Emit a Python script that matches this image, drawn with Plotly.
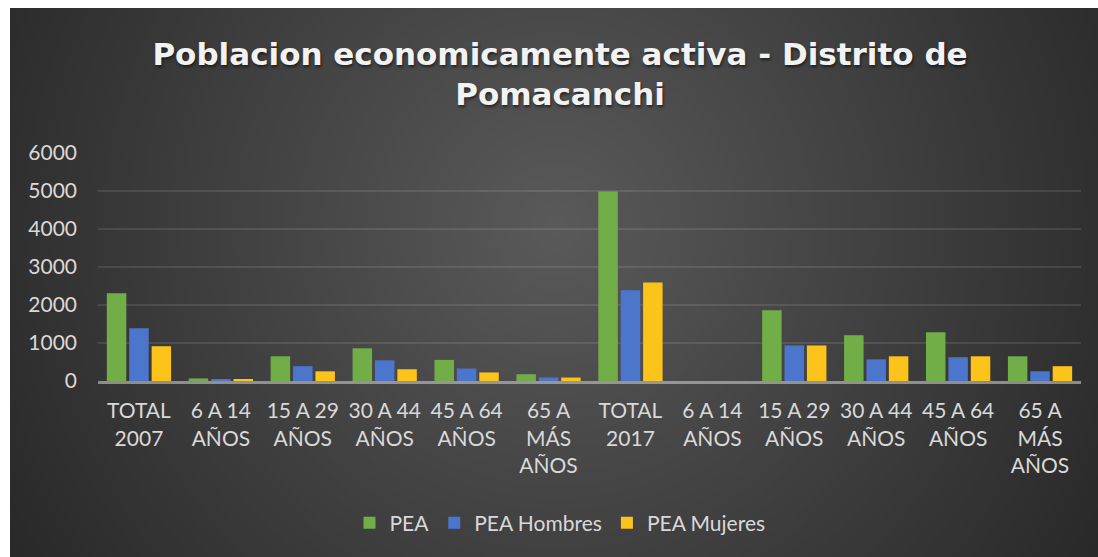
import base64
import struct
import zlib

import numpy as np
import plotly.graph_objects as go

# ---- data -------------------------------------------------------------
categories = [
    "TOTAL<br>2007", "6 A 14<br>AÑOS", "15 A 29<br>AÑOS", "30 A 44<br>AÑOS",
    "45 A 64<br>AÑOS", "65 A<br>MÁS<br>AÑOS",
    "TOTAL<br>2017", "6 A 14<br>AÑOS", "15 A 29<br>AÑOS", "30 A 44<br>AÑOS",
    "45 A 64<br>AÑOS", "65 A<br>MÁS<br>AÑOS",
]
pea = [2310, 67, 650, 860, 555, 178, 4990, 0, 1865, 1205, 1280, 650]
pea_hombres = [1390, 37, 390, 545, 330, 92, 2390, 0, 935, 570, 625, 255]
pea_mujeres = [915, 30, 255, 310, 225, 90, 2595, 0, 935, 650, 650, 390]
y_ticks = [0, 1000, 2000, 3000, 4000, 5000, 6000]

# ---- page geometry (px) ----------------------------------------------
W, H = 1098, 557
L, R, T, B = 98, 17, 153, 176
PW, PH = W - L - R, H - T - B
FRAME_X, FRAME_Y = 10, 8  # white edge around the dark chart frame


def png_uri(rgb):
    """Encode an HxWx3 uint8 array as a PNG data URI."""
    h, w, _ = rgb.shape
    raw = b"".join(b"\x00" + rgb[i].tobytes() for i in range(h))

    def chunk(tag, data):
        return (struct.pack(">I", len(data)) + tag + data
                + struct.pack(">I", zlib.crc32(tag + data) & 0xFFFFFFFF))

    png = (b"\x89PNG\r\n\x1a\n"
           + chunk(b"IHDR", struct.pack(">IIBBBBB", w, h, 8, 2, 0, 0, 0))
           + chunk(b"IDAT", zlib.compress(raw, 9))
           + chunk(b"IEND", b""))
    return "data:image/png;base64," + base64.b64encode(png).decode()


# radial dark-grey fill for the chart frame
fw, fh = W - FRAME_X, H - FRAME_Y
sx, sy = fw // 2, fh // 2
yy, xx = np.mgrid[0:sy, 0:sx]
px = xx * 2 + FRAME_X
py = yy * 2 + FRAME_Y
cx, cy = 555, 225
dist = np.sqrt((px - cx) ** 2 + (py - cy) ** 2)
t = np.clip(dist / 635.0, 0, 1)
g = (0x5a - (0x5a - 0x29) * t).astype(np.uint8)
bg = np.dstack([g, g, g])

fig = go.Figure()

xs = list(range(len(categories)))
for name, vals, col in [
    ("PEA", pea, "#72ae48"),
    ("PEA Hombres", pea_hombres, "#4c76cb"),
    ("PEA Mujeres", pea_mujeres, "#fcc31a"),
]:
    fig.add_trace(go.Bar(x=xs, y=vals, name=name,
                         marker=dict(color=col, line=dict(width=0))))

fig.add_layout_image(
    source=png_uri(bg), xref="paper", yref="paper",
    x=(FRAME_X - L) / PW, y=(H - B - FRAME_Y) / PH,
    sizex=fw / PW, sizey=fh / PH,
    xanchor="left", yanchor="top", sizing="stretch", layer="below",
)

tick_font = dict(family="Lato", size=21, color="#d9d9d9")

fig.update_layout(
    width=W, height=H,
    margin=dict(l=L, r=R, t=T, b=B, autoexpand=False),
    paper_bgcolor="white",
    plot_bgcolor="rgba(0,0,0,0)",
    barmode="group", bargap=0.18, bargroupgap=0.13,
    title=dict(
        text="Poblacion economicamente activa - Distrito de<br>Pomacanchi",
        x=560 / W, xanchor="center", y=1 - 65 / H, yanchor="top",
        font=dict(family="DejaVu Sans", size=31, weight="bold", color="#f2f2f2",
                  shadow="1px 2px 3px rgba(0,0,0,0.55)"),
    ),
    xaxis=dict(
        range=[-0.5, len(categories) - 0.5],
        tickmode="array", tickvals=xs, ticktext=categories,
        tickfont=tick_font, showgrid=False, zeroline=False,
        showline=True, linecolor="rgba(200,200,200,0.6)", linewidth=3,
        ticks="", ticklabelstandoff=9, fixedrange=True,
    ),
    yaxis=dict(
        range=[0, 6000], tickmode="array", tickvals=y_ticks,
        ticktext=[str(v) for v in y_ticks],
        tickfont=tick_font, ticks="", ticklabelstandoff=20,
        showgrid=True, gridcolor="rgba(255,255,255,0.1)", gridwidth=2,
        zeroline=False, showline=False, fixedrange=True,
    ),
    legend=dict(
        orientation="h", x=(560 - L) / PW, xanchor="center",
        y=(H - B - 523) / PH, yanchor="middle",
        font=dict(family="Lato", size=21, color="#d9d9d9"),
        bgcolor="rgba(0,0,0,0)",
    ),
    showlegend=True,
)

fig.write_html("out.html")
